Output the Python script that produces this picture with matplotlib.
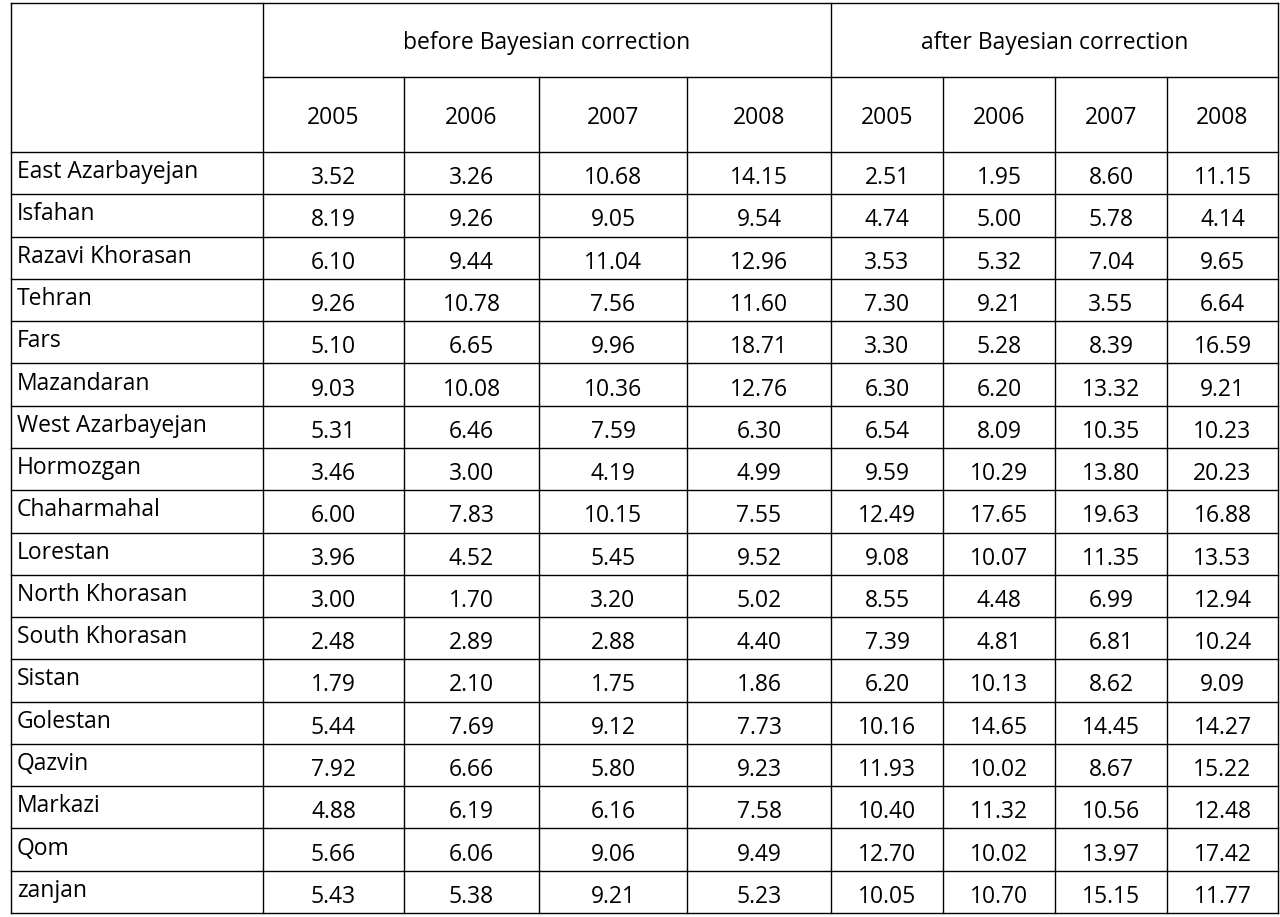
import matplotlib
matplotlib.use("Agg")
import matplotlib.pyplot as plt

provinces = ["East Azarbayejan","Isfahan","Razavi Khorasan","Tehran","Fars","Mazandaran",
             "West Azarbayejan","Hormozgan","Chaharmahal","Lorestan","North Khorasan",
             "South Khorasan","Sistan","Golestan","Qazvin","Markazi","Qom","zanjan"]
years = ["2005","2006","2007","2008"]
groups = ["before Bayesian correction","after Bayesian correction"]
before = [
 ["3.52","3.26","10.68","14.15"],["8.19","9.26","9.05","9.54"],["6.10","9.44","11.04","12.96"],
 ["9.26","10.78","7.56","11.60"],["5.10","6.65","9.96","18.71"],["9.03","10.08","10.36","12.76"],
 ["5.31","6.46","7.59","6.30"],["3.46","3.00","4.19","4.99"],["6.00","7.83","10.15","7.55"],
 ["3.96","4.52","5.45","9.52"],["3.00","1.70","3.20","5.02"],["2.48","2.89","2.88","4.40"],
 ["1.79","2.10","1.75","1.86"],["5.44","7.69","9.12","7.73"],["7.92","6.66","5.80","9.23"],
 ["4.88","6.19","6.16","7.58"],["5.66","6.06","9.06","9.49"],["5.43","5.38","9.21","5.23"]]
after = [
 ["2.51","1.95","8.60","11.15"],["4.74","5.00","5.78","4.14"],["3.53","5.32","7.04","9.65"],
 ["7.30","9.21","3.55","6.64"],["3.30","5.28","8.39","16.59"],["6.30","6.20","13.32","9.21"],
 ["6.54","8.09","10.35","10.23"],["9.59","10.29","13.80","20.23"],["12.49","17.65","19.63","16.88"],
 ["9.08","10.07","11.35","13.53"],["8.55","4.48","6.99","12.94"],["7.39","4.81","6.81","10.24"],
 ["6.20","10.13","8.62","9.09"],["10.16","14.65","14.45","14.27"],["11.93","10.02","8.67","15.22"],
 ["10.40","11.32","10.56","12.48"],["12.70","10.02","13.97","17.42"],["10.05","10.70","15.15","11.77"]]

W, H = 1280, 917
fig = plt.figure(figsize=(W/100, H/100), dpi=100)
ax = fig.add_axes([0, 0, 1, 1])
ax.set_xlim(0, W); ax.set_ylim(H, 0); ax.axis("off")

xs = [11, 263, 404, 539, 687, 831, 943, 1055, 1167, 1278]
top, mid, hb, bot = 3, 77, 152, 913
n = len(provinces)
rh = (bot - hb) / n
ys = [hb + i*rh for i in range(n+1)]
lw = 1.0; c = "black"
fs = 16.5
font = "Open Sans"

for x in xs:
    y0 = top if x in (xs[0], xs[1], xs[5], xs[-1]) else mid
    ax.plot([x, x], [y0, bot], color=c, lw=lw)
ax.plot([xs[0], xs[-1]], [top, top], color=c, lw=lw)
ax.plot([xs[1], xs[-1]], [mid, mid], color=c, lw=lw)
for y in ys:
    ax.plot([xs[0], xs[-1]], [y, y], color=c, lw=lw)

ax.text((xs[1]+xs[5])/2, (top+mid)/2+3, groups[0], ha="center", va="center", fontsize=fs, family=font)
ax.text((xs[5]+xs[9])/2, (top+mid)/2+3, groups[1], ha="center", va="center", fontsize=fs, family=font)
for j in range(8):
    ax.text((xs[1+j]+xs[2+j])/2, (mid+hb)/2+4, years[j % 4], ha="center", va="center", fontsize=fs, family=font)

for i, p in enumerate(provinces):
    yc = ys[i] + rh/2
    ax.text(xs[0]+6, yc-1, p, ha="left", va="center", fontsize=fs, family=font)
    vals = before[i] + after[i]
    for j, v in enumerate(vals):
        ax.text((xs[1+j]+xs[2+j])/2, yc+5, v, ha="center", va="center", fontsize=fs, family=font)

fig.savefig("out.png", dpi=100)
